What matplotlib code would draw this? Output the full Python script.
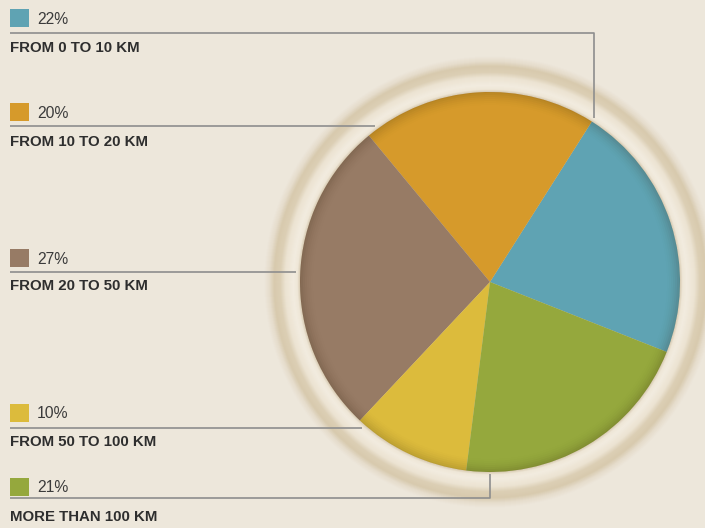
import numpy as np
import matplotlib.pyplot as plt
from matplotlib.patches import Circle, Wedge
from matplotlib.colors import to_rgb

# Datos del gráfico
etiquetas = ['FROM 0 TO 10 KM', 'FROM 10 TO 20 KM', 'FROM 20 TO 50 KM',
             'FROM 50 TO 100 KM', 'MORE THAN 100 KM']
porcentajes = [22, 20, 27, 10, 21]
colores = ['#5fa3b3', '#d69a2b', '#977b65', '#dcbb3c', '#95a83d']

fondo = '#ede7db'
W, H = 705, 528

fig = plt.figure(figsize=(W / 100, H / 100), dpi=100, facecolor=fondo)
ax = fig.add_axes([0, 0, 1, 1])
ax.set_facecolor(fondo)

cx, cy, r = 490, H - 282, 190

# Halo alrededor del pastel (círculos opacos de fuera hacia dentro)
t_k = [0, 3, 7, 15, 20, 26, 31, 36]
c_k = [to_rgb(c) for c in ['#d6c8ae', '#efe7d8', '#f2ece0', '#ece3d2',
                           '#dccfb5', '#d8caae', '#e6ddcc', fondo]]
for t in np.arange(36, 0, -0.5):
    col = [np.interp(t, t_k, [c[j] for c in c_k]) for j in range(3)]
    ax.add_patch(Circle((cx, cy), r + t, color=col, lw=0, zorder=1))

startangle = -21.6
wedges, _ = ax.pie(porcentajes, colors=colores, startangle=startangle,
                   counterclock=True, center=(cx, cy), radius=r,
                   wedgeprops=dict(linewidth=0, zorder=3))
ax.set_xlim(0, W)
ax.set_ylim(0, H)
ax.set_aspect('equal')
ax.axis('off')

# Sombreado suave hacia el borde del pastel
for rr, a in zip(np.linspace(r, r - 14, 8), np.linspace(0.05, 0.0, 8)):
    ax.add_patch(Wedge((cx, cy), r, 0, 360, width=r - rr + 1, color='#3a2a10',
                       alpha=a, lw=0, zorder=4))

# Leyenda y líneas guía
y_pct = [18, 112, 258, 413, 487]      # posición del porcentaje (px desde arriba)
y_lin = [33, 126, 272, 428, 498]      # línea horizontal
y_lab = [48, 142, 286, 442, 517]      # etiqueta
gris = '#8e8e8e'
R_fin = 194
fam = ['Liberation Sans Narrow', 'Liberation Sans']

for i, (lab, p, c) in enumerate(zip(etiquetas, porcentajes, colores)):
    yp = H - y_pct[i]
    ax.add_patch(plt.Rectangle((10, yp - 9), 19, 18, color=c, lw=0, zorder=4))
    ax.text(37, yp - 1, f'{p}%', fontsize=11.3, color='#3b3b3b', va='center',
            ha='left', family=fam)
    ax.text(10, H - y_lab[i], lab, fontsize=10.8, color='#2e2e2e', va='center',
            ha='left', fontweight='bold', family=fam)

    yl = H - y_lin[i]
    if i == 0:
        # línea al borde entre azul y naranja
        th = np.deg2rad(wedges[0].theta2)
        xe = cx + R_fin * np.cos(th)
        ye = cy + R_fin * np.sin(th)
        ax.plot([10, xe, xe], [yl, yl, ye], color=gris, lw=1.2, zorder=2,
                solid_capstyle='butt')
    elif i == 4:
        xe = cx
        ye = cy - R_fin + 2
        ax.plot([10, xe, xe], [yl, yl, ye], color=gris, lw=1.2, zorder=2,
                solid_capstyle='butt')
    else:
        dy = yl - cy
        xe = cx - np.sqrt(max(R_fin ** 2 - dy ** 2, 0))
        ax.plot([10, xe], [yl, yl], color=gris, lw=1.2, zorder=2,
                solid_capstyle='butt')

fig.savefig('out.png', dpi=100, facecolor=fondo)
